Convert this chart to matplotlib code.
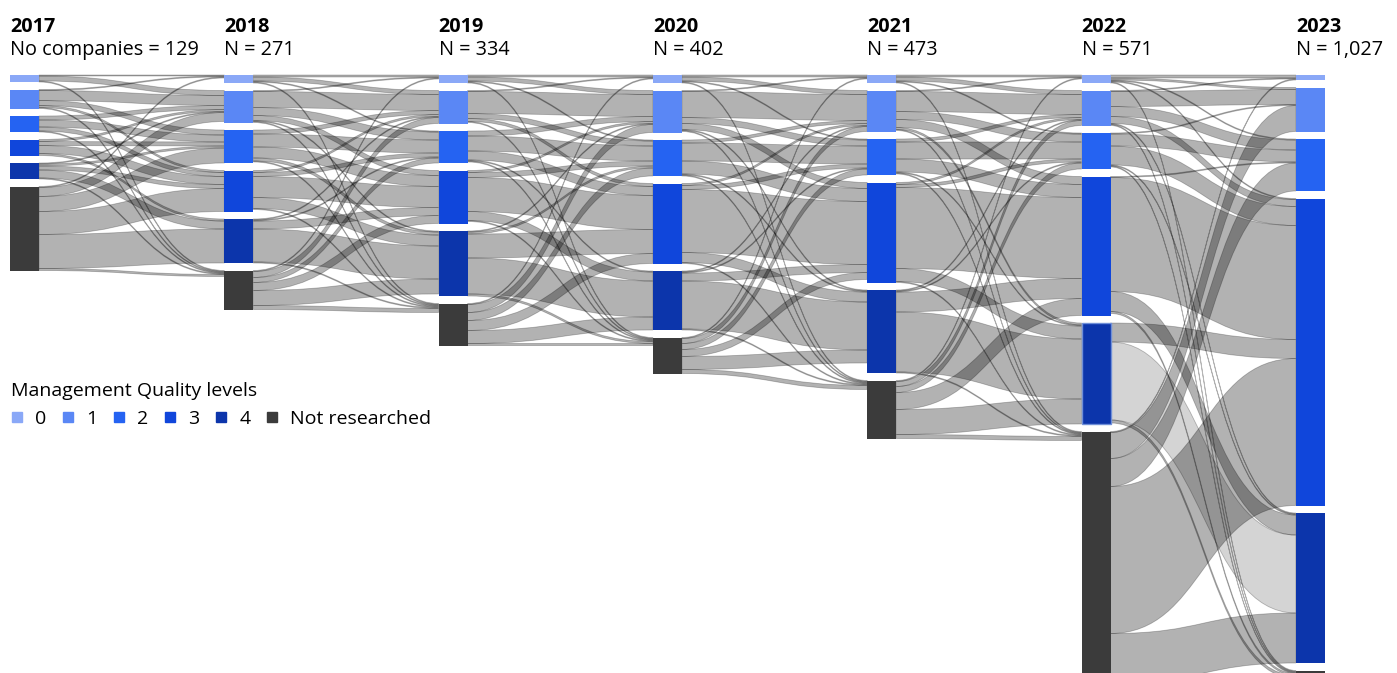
import numpy as np
import matplotlib
matplotlib.use("Agg")
import matplotlib.pyplot as plt
from matplotlib.path import Path
from matplotlib.patches import PathPatch, Rectangle
from matplotlib.lines import Line2D

plt.rcParams['font.family'] = ['Open Sans', 'DejaVu Sans']

years = ['2017', '2018', '2019', '2020', '2021', '2022', '2023']
n_labels = ['No companies = 129', 'N = 271', 'N = 334', 'N = 402',
            'N = 473', 'N = 571', 'N = 1,027']
levels = ['0', '1', '2', '3', '4', 'Not researched']
level_colors = ['#8aa8f7', '#5a87f5', '#2563f2', '#1046db', '#0c35ab', '#3b3b3b']

# flows between consecutive years: rows = level in year t, cols = level in year t+1
flows_2017_2018 = [[1, 5, 0, 0, 0, 1],
                   [1, 10, 5, 2, 0, 1],
                   [0, 4, 7, 4, 0, 1],
                   [0, 2, 4, 8, 2, 0],
                   [0, 1, 2, 4, 8, 1],
                   [1, 9, 15, 23, 34, 2]]
flows_2018_2019 = [[2, 4, 1, 0, 0, 1],
                   [1, 16, 8, 5, 1, 1],
                   [0, 4, 13, 11, 3, 1],
                   [0, 2, 4, 21, 11, 1],
                   [0, 1, 1, 8, 33, 1],
                   [1, 6, 5, 8, 15, 4]]
flows_2019_2020 = [[2, 4, 1, 0, 0, 1],
                   [1, 22, 5, 3, 0, 1],
                   [0, 5, 15, 9, 1, 1],
                   [0, 2, 5, 34, 9, 1],
                   [0, 1, 2, 24, 36, 2],
                   [1, 8, 8, 10, 13, 2]]
flows_2020_2021 = [[2, 4, 1, 0, 0, 1],
                   [1, 26, 6, 6, 1, 1],
                   [0, 3, 18, 13, 1, 1],
                   [0, 2, 4, 63, 10, 1],
                   [0, 1, 1, 8, 48, 1],
                   [1, 5, 6, 7, 13, 4]]
flows_2021_2022 = [[2, 4, 1, 0, 0, 1],
                   [1, 20, 8, 8, 2, 1],
                   [0, 3, 17, 13, 1, 1],
                   [0, 2, 3, 81, 13, 1],
                   [0, 1, 1, 20, 60, 1],
                   [1, 5, 6, 17, 25, 4]]
flows_2022_2023 = [[3, 2, 1, 1, 0, 1],
                   [1, 15, 10, 7, 1, 1],
                   [0, 1, 12, 19, 1, 1],
                   [0, 0, 1, 114, 20, 2],
                   [0, 0, 0, 19, 78, 3],
                   [1, 26, 28, 147, 50, 44]]
transitions = [flows_2017_2018, flows_2018_2019, flows_2019_2020,
               flows_2020_2021, flows_2021_2022, flows_2022_2023]
# the 2022 level 4 -> 2023 level 4 link is shown highlighted (lighter)
highlight = (5, 4, 4)

W, H = 1397, 673
col_x0, col_step, node_w = 10, 214.3, 29
top, pad = 75, 7.5

fig = plt.figure(figsize=(W / 100, H / 100), dpi=100)
ax = fig.add_axes([0, 0, 1, 1])
ax.set_xlim(0, W)
ax.set_ylim(H, 0)
ax.axis('off')

mats = [np.array(m, dtype=float) for m in transitions]
ncol = len(years)
sizes = []
for c in range(ncol):
    s = np.zeros(len(levels))
    if c > 0:
        s = np.maximum(s, mats[c - 1].sum(axis=0))
    if c < ncol - 1:
        s = np.maximum(s, mats[c].sum(axis=1))
    sizes.append(s)

node_y = []
for s in sizes:
    y = top + np.concatenate([[0], np.cumsum(s[:-1] + pad)])
    node_y.append(y)


def band(xa, ya, xb, yb, w, alpha):
    xm = (xa + xb) / 2
    verts = [(xa, ya), (xm, ya), (xm, yb), (xb, yb),
             (xb, yb + w), (xm, yb + w), (xm, ya + w), (xa, ya + w), (xa, ya)]
    codes = [Path.MOVETO, Path.CURVE4, Path.CURVE4, Path.CURVE4,
             Path.LINETO, Path.CURVE4, Path.CURVE4, Path.CURVE4, Path.CLOSEPOLY]
    p = PathPatch(Path(verts, codes), facecolor=(0, 0, 0, alpha),
                  edgecolor=(0, 0, 0, 0.25), lw=0.6, zorder=1)
    ax.add_patch(p)


for t, m in enumerate(mats):
    xa = col_x0 + t * col_step + node_w
    xb = col_x0 + (t + 1) * col_step
    # offsets at the target side follow source order
    in_start = {}
    for j in range(m.shape[1]):
        y = node_y[t + 1][j]
        for i in range(m.shape[0]):
            in_start[(i, j)] = y
            y += m[i, j]
    for i in range(m.shape[0]):
        y = node_y[t][i]
        for j in range(m.shape[1]):
            v = m[i, j]
            if v > 0:
                a = 0.17 if (t, i, j) == highlight else 0.3
                band(xa, y, xb, in_start[(i, j)], v, a)
            y += v

for c in range(ncol):
    x = col_x0 + c * col_step
    for k, (s, y) in enumerate(zip(sizes[c], node_y[c])):
        ec = '#6f8fd8' if (c, k) == (highlight[0], highlight[1]) else 'none'
        ax.add_patch(Rectangle((x, y), node_w, s, facecolor=level_colors[k],
                               edgecolor=ec, lw=1, zorder=3))
    ax.text(x, 32, years[c], fontsize=14.3, fontweight='bold', color='#000000',
            va='baseline', ha='left', zorder=4)
    ax.text(x, 55, n_labels[c], fontsize=14.3, color='#000000',
            va='baseline', ha='left', zorder=4)

handles = [Line2D([], [], marker='s', ls='none', markersize=7.5, color=c)
           for c in level_colors]
leg = ax.legend(handles, levels, title='Management Quality levels',
                loc='upper left', bbox_to_anchor=(11 / W, 1 - 382 / H),
                ncol=6, frameon=False, fontsize=14, title_fontsize=14,
                handlelength=0.6, handletextpad=0.65, columnspacing=0.8,
                borderpad=0, borderaxespad=0, alignment='left')
leg.set_zorder(5)

fig.savefig('out.png', dpi=100)
